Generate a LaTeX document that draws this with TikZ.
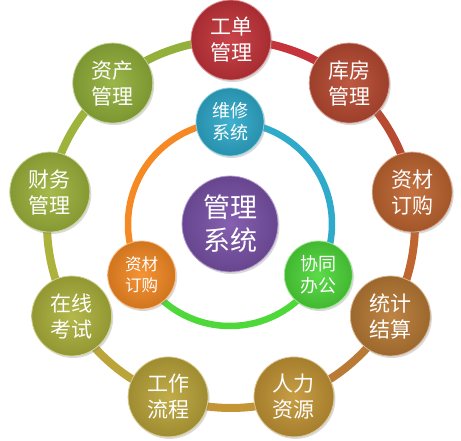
\documentclass[tikz,border=0pt]{standalone}
\usepackage{fontspec}
\newfontfamily\cjk{Noto Sans CJK SC}
\usetikzlibrary{shadows}
\definecolor{cA}{HTML}{C4343A}
\definecolor{cB}{HTML}{B84A32}
\definecolor{cC}{HTML}{BF6530}
\definecolor{cD}{HTML}{B87A35}
\definecolor{cE}{HTML}{C39535}
\definecolor{cF}{HTML}{BBA53A}
\definecolor{cG}{HTML}{ADB23C}
\definecolor{cH}{HTML}{9DB33C}
\definecolor{cI}{HTML}{92B03A}
\definecolor{iA}{HTML}{2FAACB}
\definecolor{iB}{HTML}{4ED83A}
\definecolor{iC}{HTML}{F58A24}
\definecolor{mid}{HTML}{7A52A8}
\begin{document}
\begin{tikzpicture}[x=1pt,y=1pt,
  gem/.style={circle, inner sep=0pt, text=white, align=center,
    shading=radial, inner color=#1!92!white, outer color=#1!85!black,
    draw=#1!55!white, line width=0.8pt,
    drop shadow={shadow xshift=1.5pt, shadow yshift=-2pt, opacity=0.3}},
  bignode/.style={gem=#1, minimum size=80pt, font=\cjk\fontsize{21}{26}\selectfont},
  smallnode/.style={gem=#1, minimum size=68pt, font=\cjk\fontsize{18}{22}\selectfont},
  centernode/.style={gem=#1, minimum size=96pt, font=\cjk\fontsize{27}{33}\selectfont},
  ring/.style={draw=#1, line width=8pt},
  iring/.style={draw=#1, line width=6.5pt}
]
\useasboundingbox (0,0) rectangle (461,441);
\coordinate (oc) at (231,217);
\coordinate (ic) at (230,217);
% outer nodes positions
\path (oc) ++(90:184pt) coordinate (p1);
\path (oc) ++(50:184pt) coordinate (p2);
\path (oc) ++(10:184pt) coordinate (p3);
\path (oc) ++(-30:184pt) coordinate (p4);
\path (oc) ++(-70:184pt) coordinate (p5);
\path (oc) ++(-110:184pt) coordinate (p6);
\path (oc) ++(-150:184pt) coordinate (p7);
\path (oc) ++(170:184pt) coordinate (p8);
\path (oc) ++(130:184pt) coordinate (p9);
% outer ring arcs
\draw[ring=cA] (p1) arc[start angle=90, end angle=50, radius=184pt];
\draw[ring=cB] (p2) arc[start angle=50, end angle=10, radius=184pt];
\draw[ring=cC] (p3) arc[start angle=10, end angle=-30, radius=184pt];
\draw[ring=cD] (p4) arc[start angle=-30, end angle=-70, radius=184pt];
\draw[ring=cE] (p5) arc[start angle=-70, end angle=-110, radius=184pt];
\draw[ring=cF] (p6) arc[start angle=-110, end angle=-150, radius=184pt];
\draw[ring=cG] (p7) arc[start angle=-150, end angle=-190, radius=184pt];
\draw[ring=cH] (p8) arc[start angle=170, end angle=130, radius=184pt];
\draw[ring=cI] (p9) arc[start angle=130, end angle=90, radius=184pt];
% inner positions
\path (ic) ++(90:102pt) coordinate (q1);
\path (ic) ++(-30:102pt) coordinate (q2);
\path (ic) ++(210:102pt) coordinate (q3);
\draw[iring=iA] (q1) arc[start angle=90, end angle=-30, radius=102pt];
\draw[iring=iB] (q2) arc[start angle=-30, end angle=-150, radius=102pt];
\draw[iring=iC] (q3) arc[start angle=210, end angle=90, radius=102pt];
% outer nodes
\node[bignode=cA] (o1) at (p1) {工单\\管理};
\node[bignode=cB] (o2) at (p2) {库房\\管理};
\node[bignode=cC] (o3) at (p3) {资材\\订购};
\node[bignode=cD] (o4) at (p4) {统计\\结算};
\node[bignode=cE] (o5) at (p5) {人力\\资源};
\node[bignode=cF] (o6) at (p6) {工作\\流程};
\node[bignode=cG] (o7) at (p7) {在线\\考试};
\node[bignode=cH] (o8) at (p8) {财务\\管理};
\node[bignode=cI] (o9) at (p9) {资产\\管理};
% inner nodes
\node[smallnode=iA] (i1) at (q1) {维修\\系统};
\node[smallnode=iB] (i2) at (q2) {协同\\办公};
\node[smallnode=iC, font=\cjk\fontsize{16.5}{21}\selectfont] (i3) at (q3) {资材\\订购};
\node[centernode=mid] (m) at (ic) {管理\\系统};
\end{tikzpicture}
\end{document}
